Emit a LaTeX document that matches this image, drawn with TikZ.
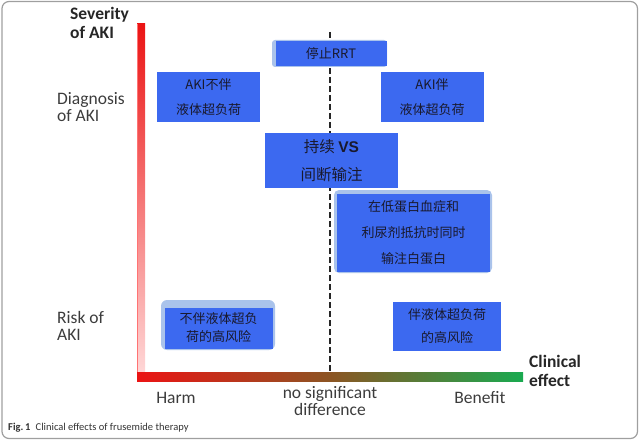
\documentclass[tikz,border=0pt]{standalone}
\usepackage{fontspec}
\newfontfamily\calib{Carlito}
\newfontfamily\cjkf{Noto Sans CJK SC}
\newfontfamily\lsans{Liberation Sans}
\definecolor{boxblue}{RGB}{60,105,240}
\definecolor{rimblue}{RGB}{170,195,235}
\definecolor{boxtext}{RGB}{25,25,45}
\definecolor{axred}{RGB}{235,20,20}
\definecolor{axbrown}{RGB}{140,85,35}
\definecolor{axgreen}{RGB}{25,170,80}
\definecolor{labgray}{RGB}{60,60,60}
\tikzset{
  bluebox/.style={fill=boxblue, draw=none, text=boxtext, align=center, inner sep=0pt},
  cjktext/.style={font=\cjkf\fontsize{13}{25}\selectfont},
  axlabel/.style={font=\calib\fontsize{17.5}{17.5}\selectfont, text=labgray, align=left, inner sep=0pt},
  axbold/.style={font=\calib\bfseries\fontsize{17.5}{19}\selectfont, text=black!85, align=left, inner sep=0pt},
  dashline/.style={line width=2pt, dash pattern=on 6pt off 3pt, black!85}
}
\begin{document}
\begin{tikzpicture}[x=1pt,y=-1pt]
\useasboundingbox (0,0) rectangle (640,441);
% frame
\draw[gray!75, line width=1.2pt, rounded corners=7pt] (2,1.5) rectangle (637.5,438.5);

% axes
\shade[top color=axred, bottom color=red!15] (137,24) rectangle (145,376);
\draw[red!55, line width=0.6pt] (137.3,24) -- (137.3,372);
\shade[left color=axred, right color=axgreen, middle color=axbrown] (137,372) rectangle (523,381);

% dashed line
\coordinate (dtop) at (330,32);
\coordinate (dbot) at (330,372);
\draw[dashline] (dtop) -- (dbot);

% axis labels
\node[axbold, anchor=north west] (sev) at (70,7) {Severity\\of AKI};
\node[axlabel, anchor=north west] (diag) at (57,92) {Diagnosis\\of AKI};
\node[axlabel, anchor=north west] (risk) at (57,311) {Risk of\\AKI};
\node[axbold, anchor=north west] (clin) at (529,355) {Clinical\\effect};
\node[axlabel, anchor=center] (harm) at (176,398) {Harm};
\node[axlabel, align=center, anchor=center] (nosig) at (330,401) {no significant\\difference};
\node[axlabel, anchor=center] (ben) at (480,398) {Benefit};

% caption
\node[anchor=west, inner sep=0pt, font=\calib\fontsize{10.5}{12}\selectfont, text=black!80] (cap) at (8,428)
  {\textbf{Fig.\,1}\enspace Clinical effects of frusemide therapy};

% boxes
\fill[rimblue, rounded corners=3pt] (272,40) rectangle (387,67);
\node[bluebox, cjktext, minimum width=111pt, minimum height=25pt] (stop) at (331,53.5) {停止RRT};

\node[bluebox, cjktext, minimum width=103pt, minimum height=50pt] (akinot) at (208.5,97) {AKI不伴\\液体超负荷};
\node[bluebox, cjktext, minimum width=103pt, minimum height=50pt] (akiwith) at (432,97) {AKI伴\\液体超负荷};

\node[bluebox, font=\cjkf\fontsize{15.5}{28}\selectfont, minimum width=133pt, minimum height=55pt] (cont) at (331.5,160.5)
  {持续 {\lsans\bfseries VS}\\间断输注};

\fill[rimblue, rounded corners=5pt] (334,190) rectangle (492,273);
\node[bluebox, cjktext, font=\cjkf\fontsize{13}{26}\selectfont, minimum width=153pt, minimum height=78pt] (alb) at (413.5,233)
  {在低蛋白血症和\\利尿剂抵抗时同时\\输注白蛋白};

\fill[rimblue, rounded corners=6pt] (161,300) rectangle (275,350);
\node[bluebox, font=\cjkf\fontsize{13}{18}\selectfont, minimum width=108pt, minimum height=41pt] (risknot) at (218.5,328)
  {不伴液体超负\\荷的高风险};

\node[bluebox, font=\cjkf\fontsize{13}{23}\selectfont, minimum width=108pt, minimum height=49pt] (riskwith) at (447,326.5)
  {伴液体超负荷\\的高风险};
\end{tikzpicture}
\end{document}
